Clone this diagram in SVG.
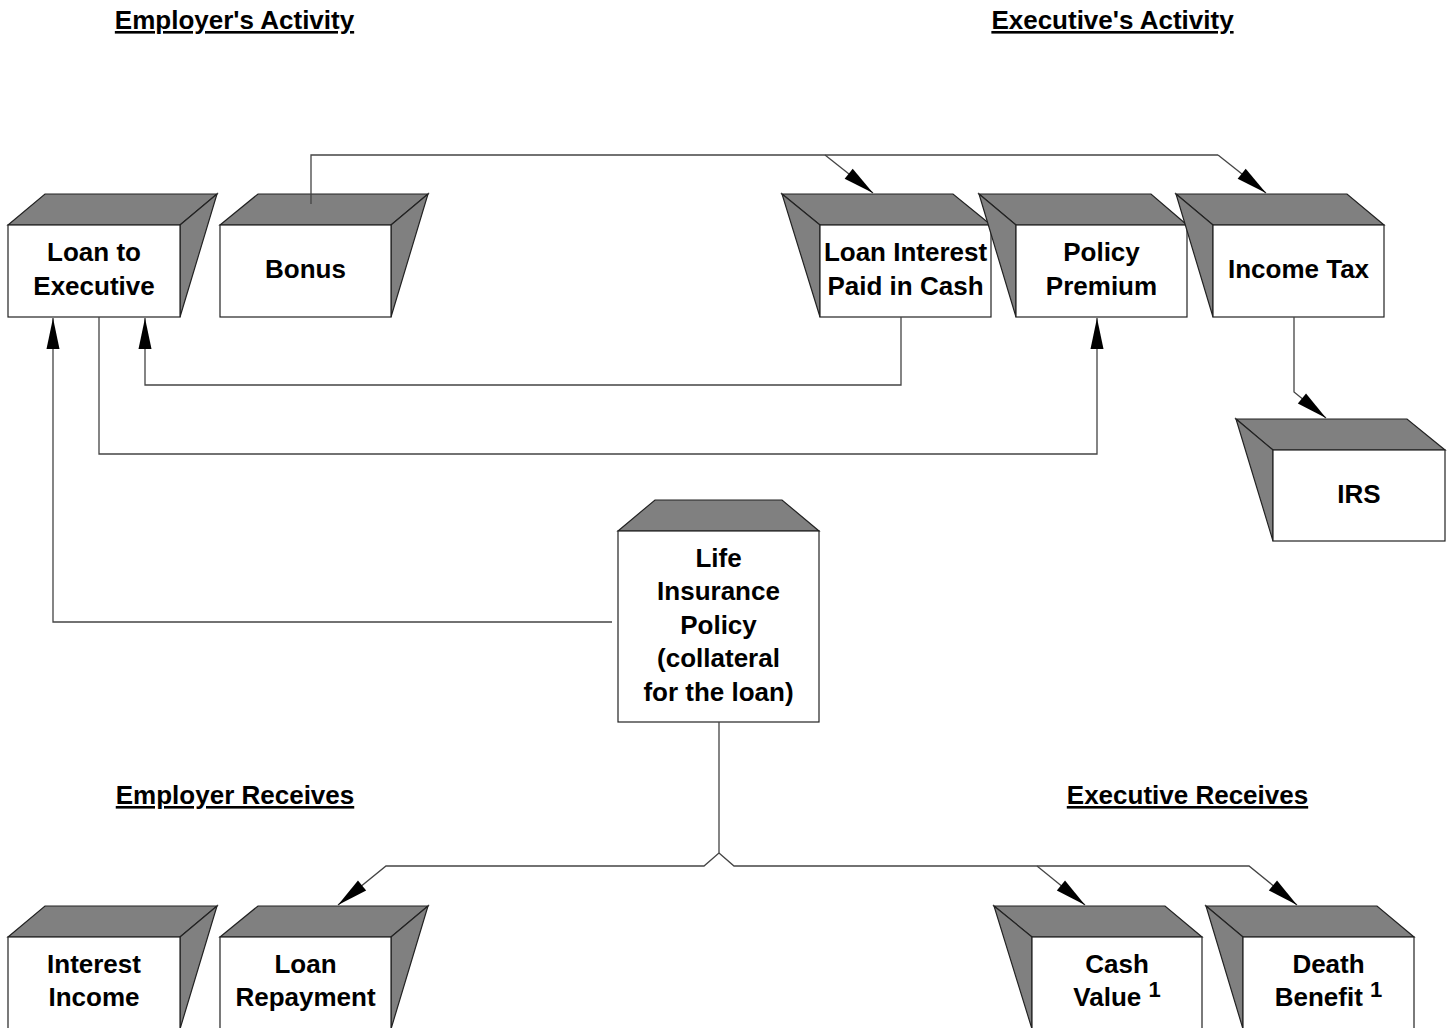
<svg xmlns="http://www.w3.org/2000/svg" width="1453" height="1028" viewBox="0 0 1453 1028">
<style>
.face{fill:#ffffff;stroke:#222222;stroke-width:1.2}
.shade{fill:#808080;stroke:#222222;stroke-width:1.2;stroke-linejoin:miter}
.lbl{font-family:"Liberation Sans",Arial,Helvetica,sans-serif;font-weight:bold;font-size:26px;fill:#000;text-anchor:middle}
.hdr{font-family:"Liberation Sans",Arial,Helvetica,sans-serif;font-weight:bold;font-size:26px;fill:#000;text-anchor:middle;text-decoration:underline}
.sup{font-size:22px}
.conn{fill:none;stroke:#444444;stroke-width:1.3}
</style>
<defs>
<marker id="arr" markerUnits="userSpaceOnUse" markerWidth="34" markerHeight="16" viewBox="-32 -8 34 16" refX="0" refY="0" orient="auto">
<path d="M0,0 L-31,-6.5 L-31,6.5 Z" fill="#000"/>
</marker>
</defs>
<rect width="1453" height="1028" fill="#ffffff"/>

<g id="headers">
<text class="hdr" x="234.5" y="29">Employer's Activity</text>
<text class="hdr" x="1112.5" y="29">Executive's Activity</text>
<text class="hdr" x="235" y="804">Employer Receives</text>
<text class="hdr" x="1187.5" y="804">Executive Receives</text>
</g>

<g id="node-loan-to-executive">
<polygon class="shade" points="8,225 45,194 217,194 180,225"/>
<polygon class="shade" points="180,225 217,194 180,317"/>
<rect class="face" x="8" y="225" width="172" height="92"/>
<text class="lbl" x="94" y="261">Loan to</text>
<text class="lbl" x="94" y="295">Executive</text>
</g>

<g id="node-bonus">
<polygon class="shade" points="220,225 258,194 428,194 391,225"/>
<polygon class="shade" points="391,225 428,194 391,317"/>
<rect class="face" x="220" y="225" width="171" height="92"/>
<text class="lbl" x="305.5" y="278">Bonus</text>
</g>

<g id="node-loan-interest">
<polygon class="shade" points="820,225 782,194 953,194 991,225"/>
<polygon class="shade" points="782,194 820,225 820,317"/>
<rect class="face" x="820" y="225" width="171" height="92"/>
<text class="lbl" x="905.5" y="261">Loan Interest</text>
<text class="lbl" x="905.5" y="295">Paid in Cash</text>
</g>

<g id="node-policy-premium">
<polygon class="shade" points="1016,225 979,194 1151,194 1187,225"/>
<polygon class="shade" points="979,194 1016,225 1016,317"/>
<rect class="face" x="1016" y="225" width="171" height="92"/>
<text class="lbl" x="1101.5" y="261">Policy</text>
<text class="lbl" x="1101.5" y="295">Premium</text>
</g>

<g id="node-income-tax">
<polygon class="shade" points="1213,225 1176,194 1347,194 1384,225"/>
<polygon class="shade" points="1176,194 1213,225 1213,317"/>
<rect class="face" x="1213" y="225" width="171" height="92"/>
<text class="lbl" x="1298.5" y="278">Income Tax</text>
</g>

<g id="node-irs">
<polygon class="shade" points="1273,450 1236,419 1407,419 1445,450"/>
<polygon class="shade" points="1236,419 1273,450 1273,541"/>
<rect class="face" x="1273" y="450" width="172" height="91"/>
<text class="lbl" x="1359" y="503">IRS</text>
</g>

<g id="node-life-insurance">
<polygon class="shade" points="618,531 655,500 782,500 819,531"/>
<rect class="face" x="618" y="531" width="201" height="191"/>
<text class="lbl" x="718.5" y="567">Life</text>
<text class="lbl" x="718.5" y="600">Insurance</text>
<text class="lbl" x="718.5" y="634">Policy</text>
<text class="lbl" x="718.5" y="667">(collateral</text>
<text class="lbl" x="718.5" y="701">for the loan)</text>
</g>

<g id="node-interest-income">
<polygon class="shade" points="8,937 45,906 217,906 180,937"/>
<polygon class="shade" points="180,937 217,906 180,1029"/>
<rect class="face" x="8" y="937" width="172" height="92"/>
<text class="lbl" x="94" y="973">Interest</text>
<text class="lbl" x="94" y="1006">Income</text>
</g>

<g id="node-loan-repayment">
<polygon class="shade" points="220,937 258,906 428,906 391,937"/>
<polygon class="shade" points="391,937 428,906 391,1029"/>
<rect class="face" x="220" y="937" width="171" height="92"/>
<text class="lbl" x="305.5" y="973">Loan</text>
<text class="lbl" x="305.5" y="1006">Repayment</text>
</g>

<g id="node-cash-value">
<polygon class="shade" points="1032,937 994,906 1165,906 1202,937"/>
<polygon class="shade" points="994,906 1032,937 1032,1029"/>
<rect class="face" x="1032" y="937" width="170" height="92"/>
<text class="lbl" x="1117" y="973">Cash</text>
<text class="lbl" x="1117" y="1006">Value <tspan class="sup" dy="-9">1</tspan></text>
</g>

<g id="node-death-benefit">
<polygon class="shade" points="1243,937 1206,906 1377,906 1414,937"/>
<polygon class="shade" points="1206,906 1243,937 1243,1029"/>
<rect class="face" x="1243" y="937" width="171" height="92"/>
<text class="lbl" x="1328.5" y="973">Death</text>
<text class="lbl" x="1328.5" y="1006">Benefit <tspan class="sup" dy="-9">1</tspan></text>
</g>

<g id="connectors">
<polyline class="conn" points="311,204 311,155 1218,155"/>
<polyline class="conn" points="825,155 873,193" marker-end="url(#arr)"/>
<polyline class="conn" points="1218,155 1266,193" marker-end="url(#arr)"/>
<polyline class="conn" points="901,317 901,385 145,385 145,318" marker-end="url(#arr)"/>
<polyline class="conn" points="99,317 99,454 1097,454 1097,318" marker-end="url(#arr)"/>
<polyline class="conn" points="612,622 53,622 53,318" marker-end="url(#arr)"/>
<polyline class="conn" points="1294,317 1294,392 1326,418" marker-end="url(#arr)"/>
<polyline class="conn" points="719,722 719,853 704,866 386,866 338,905" marker-end="url(#arr)"/>
<polyline class="conn" points="719,853 734,866 1249,866 1297,905" marker-end="url(#arr)"/>
<polyline class="conn" points="1037,866 1085,905" marker-end="url(#arr)"/>
</g>
</svg>
